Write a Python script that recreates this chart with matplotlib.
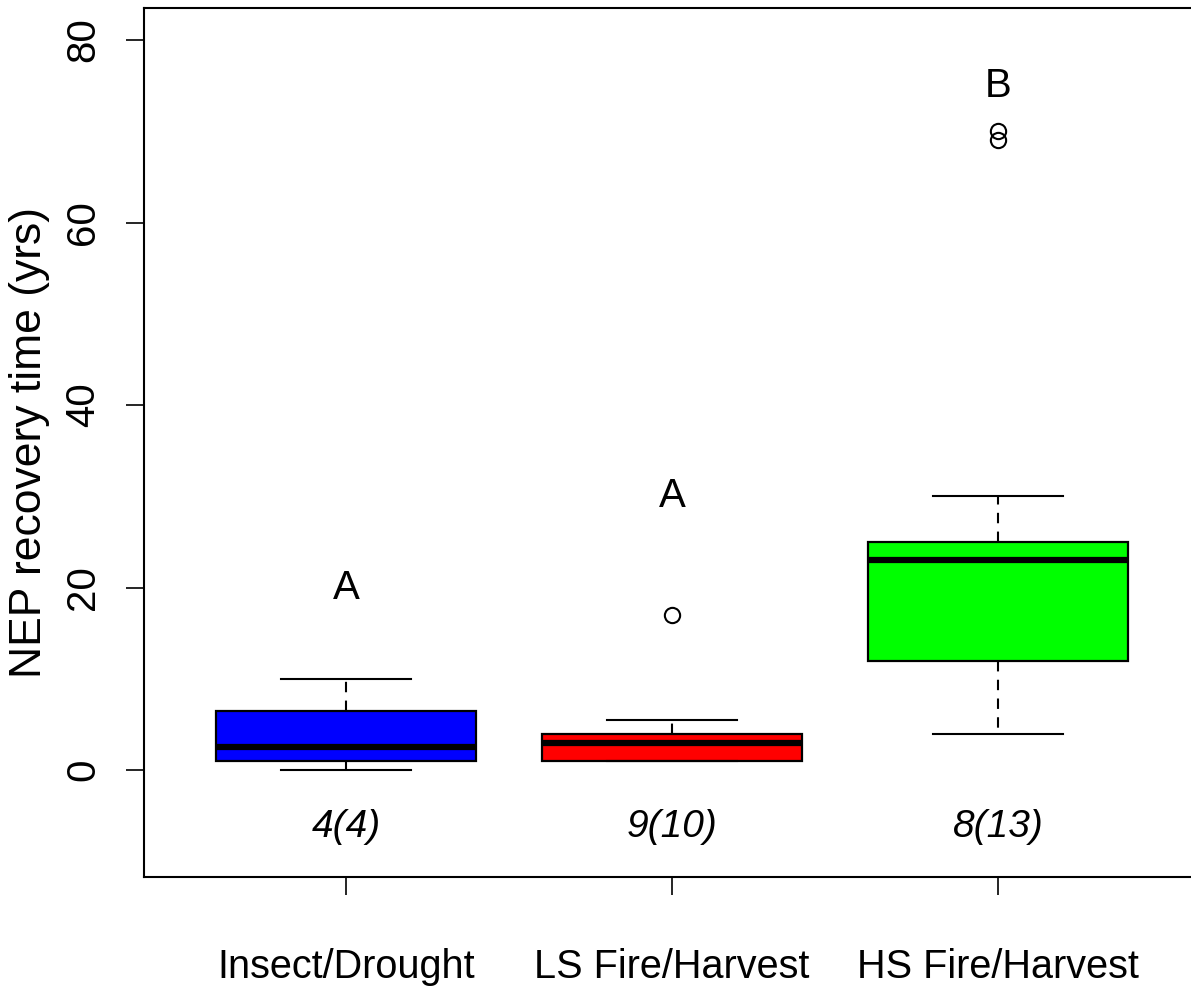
import matplotlib.pyplot as plt

plt.rcParams['font.family'] = ['Liberation Sans', 'DejaVu Sans']

groups = ['Insect/Drought', 'LS Fire/Harvest', 'HS Fire/Harvest']
colors = ['#0000ff', '#ff0000', '#00ff00']
whislo = [0, 1, 4]
q1 = [1, 1, 12]
med = [2.5, 3, 23]
q3 = [6.5, 4, 25]
whishi = [10, 5.5, 30]
fliers = [[], [17], [69, 70]]
letters = ['A', 'A', 'B']
letter_y = [20, 30, 75]
counts = ['4(4)', '9(10)', '8(13)']
count_y = -6.2

fig = plt.figure(figsize=(11.91, 9.98), dpi=100)
ax = fig.add_axes([0.1209, 0.1212, 0.8867, 0.8708])

stats = []
for i in range(len(groups)):
    stats.append(dict(med=med[i], q1=q1[i], q3=q3[i], whislo=whislo[i],
                      whishi=whishi[i], fliers=fliers[i]))

bp = ax.bxp(stats, positions=[1, 2, 3], widths=0.8, patch_artist=True,
            boxprops=dict(linewidth=1.6, edgecolor='black'),
            medianprops=dict(color='black', linewidth=4.5, solid_capstyle='butt'),
            whiskerprops=dict(color='black', linewidth=1.5, linestyle=(0, (5, 4))),
            capprops=dict(color='black', linewidth=1.5),
            flierprops=dict(marker='o', markersize=11, markerfacecolor='none',
                            markeredgecolor='black', markeredgewidth=1.5),
            capwidths=0.4)
for patch, c in zip(bp['boxes'], colors):
    patch.set_facecolor(c)

for i in range(len(groups)):
    ax.text(i + 1, letter_y[i], letters[i], ha='center', va='center', fontsize=29)
    ax.text(i + 1, count_y, counts[i], ha='center', va='center', fontsize=28,
            style='italic')

ax.set_xlim(0.38, 3.62)
ax.set_ylim(-11.7, 83.5)
ax.set_xticks([1, 2, 3])
ax.set_xticklabels(groups, fontsize=28.5)
ax.set_yticks([0, 20, 40, 60, 80])
ax.set_yticklabels(['0', '20', '40', '60', '80'], fontsize=29, rotation=90, va='center')
ax.tick_params(axis='x', length=13, width=1.2, pad=38)
ax.tick_params(axis='y', length=13, width=1.2, pad=17)
ax.set_ylabel('NEP recovery time (yrs)', fontsize=32, labelpad=10)
for s in ax.spines.values():
    s.set_linewidth(1.5)

fig.savefig('out.png', dpi=100)
